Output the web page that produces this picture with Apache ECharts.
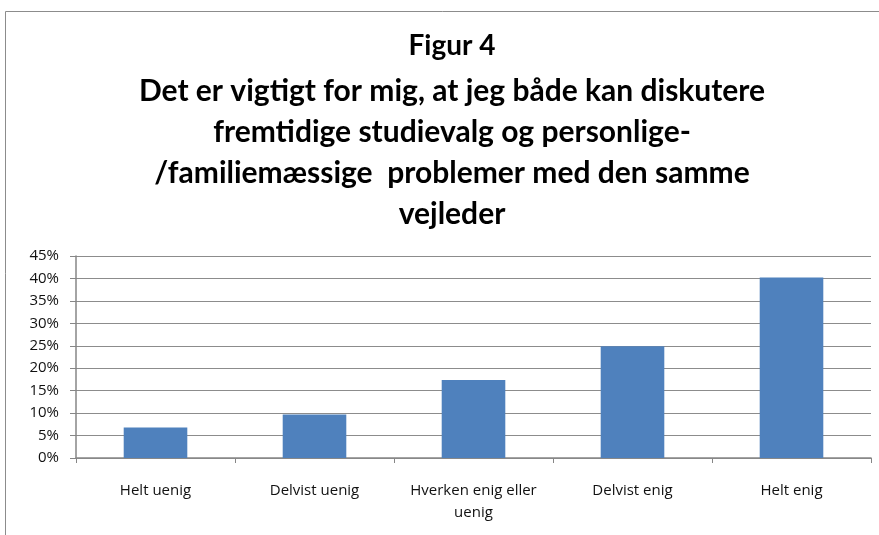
<!DOCTYPE html>
<html><head><meta charset="utf-8">
<script src="https://cdn.jsdelivr.net/npm/echarts@6/dist/echarts.min.js"></script>
<style>html,body{margin:0;padding:0;background:#fff}#c{width:879px;height:535px}</style>
</head><body><div id="c"></div>
<script>
const categories = ['Helt uenig', 'Delvist uenig', 'Hverken enig eller\nuenig', 'Delvist enig', 'Helt enig'];
const values = [6.8, 9.7, 17.4, 24.9, 40.2];
const titleLine1 = 'Figur 4';
const titleRest = 'Det er vigtigt for mig, at jeg både kan diskutere\nfremtidige studievalg og personlige-\n/familiemæssige  problemer med den samme\nvejleder';

const chart = echarts.init(document.getElementById('c'), null, {renderer: 'canvas'});
chart.setOption({
  animation: false,
  backgroundColor: '#fff',
  graphic: [{
    type: 'rect', shape: {x: 5.5, y: 11.5, width: 900, height: 600},
    style: {fill: 'none', stroke: '#8c8c8c', lineWidth: 1}, silent: true
  }],
  title: [{
    text: titleLine1, left: 447, textAlign: 'center', top: 27,
    textStyle: {fontFamily: 'Lato', fontWeight: 'bold', fontSize: 28, color: '#000'}
  }, {
    text: titleRest, left: 447, textAlign: 'center', top: 66,
    textStyle: {fontFamily: 'Lato', fontWeight: 'bold', fontSize: 30, lineHeight: 41, color: '#000'}
  }],
  grid: {left: 76, right: 8, top: 256, bottom: 77, containLabel: false},
  xAxis: {
    type: 'category', data: categories,
    axisLine: {lineStyle: {color: '#868686', width: 1.5}},
    axisTick: {show: true, length: 5, lineStyle: {color: '#868686'}},
    axisLabel: {color: '#111', fontFamily: 'Open Sans', fontSize: 15, margin: 22, lineHeight: 22, interval: 0}
  },
  yAxis: {
    type: 'value', min: 0, max: 45, interval: 5,
    axisLine: {show: true, lineStyle: {color: '#868686', width: 1.5}},
    axisTick: {show: true, length: 6, lineStyle: {color: '#868686'}},
    splitLine: {lineStyle: {color: '#8c8c8c', width: 1.2}},
    axisLabel: {formatter: '{value}%', color: '#111', fontFamily: 'Open Sans', fontSize: 15, margin: 17}
  },
  series: [{
    type: 'bar', data: values, barWidth: '40%',
    itemStyle: {color: '#4f81bd'}
  }]
});
</script></body></html>
